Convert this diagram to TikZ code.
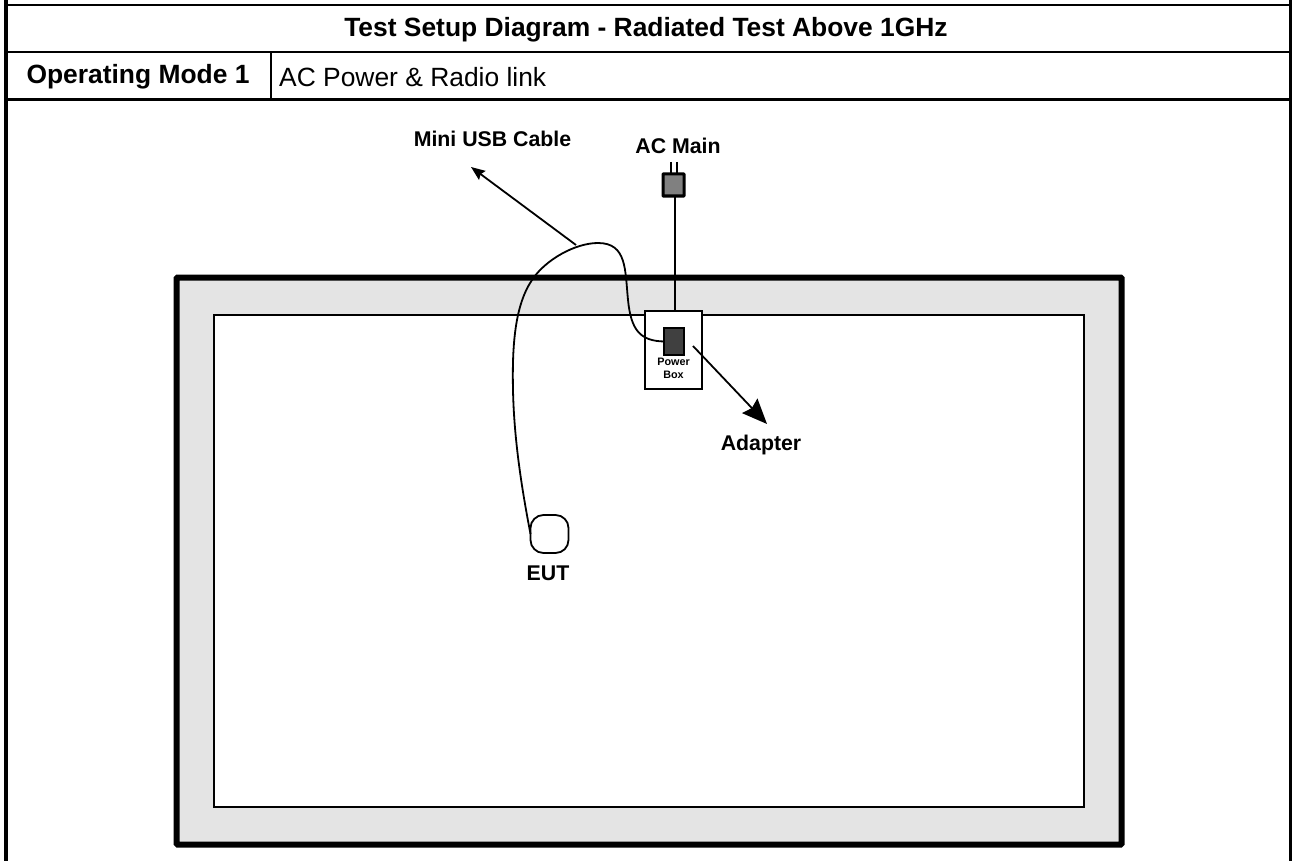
\documentclass[tikz,border=0pt]{standalone}
\usepackage{fontspec}
\setmainfont{Liberation Sans}
\usetikzlibrary{arrows.meta}
\tikzset{
  frameline/.style={draw=black,line width=2.2pt},
  lbl/.style={font=\bfseries\fontsize{21.3}{24}\selectfont,inner sep=0pt,anchor=center},
  head/.style={font=\bfseries\fontsize{26.4}{30}\selectfont,inner sep=0pt},
  wire/.style={draw=black,line width=1.8pt},
  gen/.style={inner sep=0pt,outer sep=0pt}
}
\begin{document}
\begin{tikzpicture}[x=1pt,y=-1pt]
\useasboundingbox (0,0) rectangle (1292,861);
% frame
\coordinate (tl) at (6,0); \coordinate (bl) at (6,861);
\coordinate (tr) at (1290.5,0); \coordinate (br) at (1290.5,861);
\draw[black,line width=3.8pt] (tl) -- (bl);
\draw[black,line width=2.4pt] (tr) -- (br);
\draw[frameline] (6,5) -- (1290.5,5);
\draw[frameline] (6,52) -- (1290.5,52);
\draw[frameline] (6,99.5) -- (1290.5,99.5);
\draw[frameline] (271,52) -- (271,99.5);
\node[head] (title) at (646,30) {Test Setup Diagram - Radiated Test Above 1GHz};
\node[head] (mode) at (138,77) {Operating Mode 1};
\node[font=\fontsize{26.4}{30}\selectfont,inner sep=0pt,anchor=west] (power) at (279,77) {AC Power \& Radio link};
% room
\node[gen,draw=black,fill=black!10.5,line width=6pt,rounded corners=1pt,minimum width=945pt,minimum height=567pt] (room) at (649,561) {};
\node[gen,draw=black,fill=white,line width=1.7pt,minimum width=870pt,minimum height=491.5pt] (floor) at (649,561) {};
% plug
\node[gen,draw=black,fill=black!50,line width=3pt,rounded corners=0.5pt,minimum width=21pt,minimum height=22pt] (plug) at (673.5,185) {};
\coordinate (p1) at (671,162); \coordinate (p2) at (677,162);
\draw[black,line width=2pt] (p1) -- (671,173);
\draw[black,line width=2pt] (p2) -- (677,173);
% power box
\node[gen,draw=black,fill=white,line width=1.7pt,minimum width=57pt,minimum height=77.5pt] (box) at (673.5,350) {};
\draw[black,line width=2pt] (plug.south) ++(1,0) -- (674.5,311);
\node[gen,draw=black,fill=black!75,line width=2pt,minimum width=20pt,minimum height=26.5pt] (adapter) at (674.3,341.5) {};
\node[font=\bfseries\fontsize{10.8}{13}\selectfont,align=center,inner sep=0pt] (pb) at (673.5,368.5) {Power\\Box};
% EUT
\node[gen,draw=black,fill=white,line width=1.8pt,rounded corners=13pt,minimum width=38pt,minimum height=38pt] (eut) at (549.5,534) {};
\draw[wire] (adapter.west) .. controls (640,341) and (631,330) .. (628,300)
  .. controls (625,270) and (627,243) .. (598,243)
  .. controls (575,243) and (545,260) .. (532,280)
  .. controls (515,305) and (512,345) .. (513,390)
  .. controls (514,440) and (522,490) .. (eut.west);
% arrows
\coordinate (a1s) at (576,245); \coordinate (a1e) at (471,167);
\coordinate (a2s) at (693,346); \coordinate (a2e) at (767,424);
\draw[wire,-{Stealth[length=14pt,width=11pt,inset=2pt]}] (a1s) -- (a1e);
\draw[wire,-{Stealth[length=25pt,width=21pt,inset=3pt]}] (a2s) -- (a2e);
% labels
\node[lbl] (usb) at (492.5,139) {Mini USB Cable};
\node[lbl] (ac) at (678,146) {AC Main};
\node[lbl] (ad) at (761,445) {Adapter};
\node[lbl] (eutl) at (548,573) {EUT};
\end{tikzpicture}
\end{document}
